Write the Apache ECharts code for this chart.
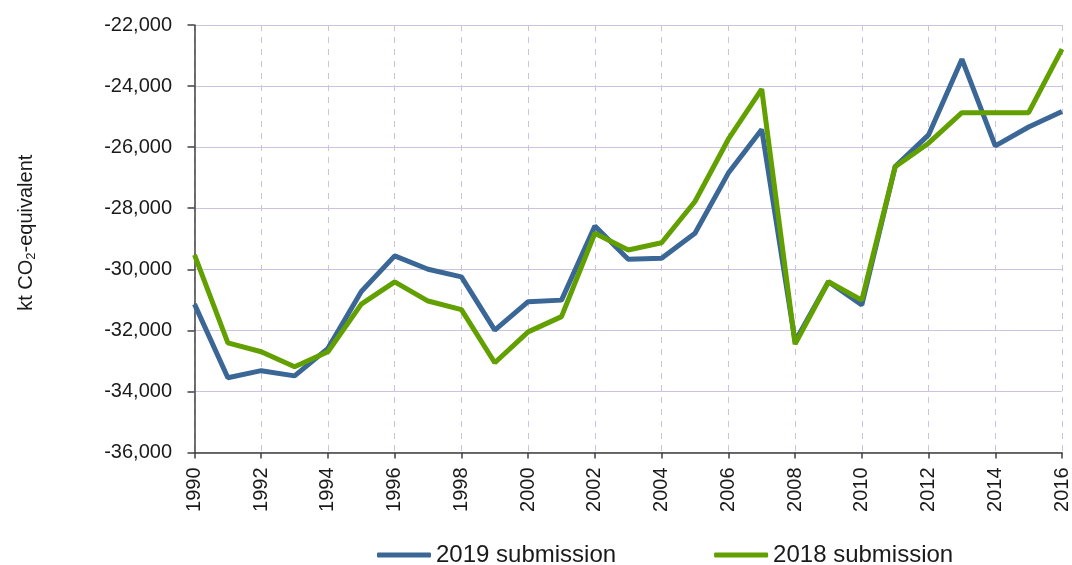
<!DOCTYPE html>
<html>
<head>
<meta charset="utf-8">
<script src="https://cdn.jsdelivr.net/npm/echarts@6/dist/echarts.min.js"></script>
<style>
  html, body { margin: 0; padding: 0; background: #ffffff; }
  #chart { width: 1072px; height: 565px; }
</style>
</head>
<body>
<div id="chart"></div>
<script>
// Net emissions/removals per inventory year, in kt CO2-equivalent
const years = [1990, 1991, 1992, 1993, 1994, 1995, 1996, 1997, 1998, 1999,
               2000, 2001, 2002, 2003, 2004, 2005, 2006, 2007, 2008, 2009,
               2010, 2011, 2012, 2013, 2014, 2015, 2016];

const submission2019 = [-31140, -33550, -33320, -33490, -32590, -30730, -29560, -30000, -30250, -31990,
                        -31060, -31010, -28580, -29670, -29640, -28820, -26850, -25420, -32360, -30410,
                        -31170, -26640, -25600, -23120, -25960, -25340, -24830];

const submission2018 = [-29530, -32410, -32700, -33190, -32700, -31140, -30410, -31040, -31320, -33060,
                        -32050, -31550, -28820, -29370, -29130, -27780, -25740, -24100, -32450, -30410,
                        -31010, -26640, -25870, -24870, -24870, -24870, -22790];

const seriesNames = ['2019 submission', '2018 submission'];
const yTicks = { min: -36000, max: -22000, step: 2000 };
const xTicks = { min: 1990, max: 2016, step: 2 };

const FONT = '"Liberation Sans", Arial, sans-serif';
const BLUE = '#3B6797';
const GREEN = '#62A000';
const GRID_COLOR = '#CBC3DF';
const AXIS_COLOR = '#404040';

const pairs = (vals) => years.map((y, i) => [y, vals[i]]);

const chart = echarts.init(document.getElementById('chart'), null, { renderer: 'canvas' });

chart.setOption({
  animation: false,
  backgroundColor: '#ffffff',
  grid: { left: 194.5, right: 10, top: 25, bottom: 112.5, containLabel: false },
  legend: {
    top: 538,
    left: 372,
    itemWidth: 54,
    itemHeight: 5,
    itemGap: 98,
    icon: 'roundRect',
    textStyle: { fontFamily: FONT, fontSize: 24, color: '#1a1a1a' },
    data: seriesNames
  },
  xAxis: {
    type: 'value',
    min: xTicks.min,
    max: xTicks.max,
    interval: xTicks.step,
    axisLine: { onZero: false, lineStyle: { color: AXIS_COLOR, width: 1.5 } },
    axisTick: { show: true, length: 6, lineStyle: { color: AXIS_COLOR, width: 1.5 } },
    axisLabel: {
      rotate: 90,
      margin: 15,
      fontFamily: FONT,
      fontSize: 20,
      color: '#1a1a1a',
      formatter: (v) => String(v)
    },
    splitLine: { show: true, lineStyle: { color: GRID_COLOR, width: 1, type: [6, 6] } }
  },
  yAxis: {
    type: 'value',
    min: yTicks.min,
    max: yTicks.max,
    interval: yTicks.step,
    name: '{a|kt CO}{b|2}{a|-equivalent}',
    nameLocation: 'middle',
    nameGap: 157,
    nameRotate: 90,
    nameTextStyle: {
      padding: [0, 0, 0, 12],
      rich: {
        a: { fontFamily: FONT, fontSize: 20, color: '#1a1a1a' },
        b: { fontFamily: FONT, fontSize: 13, color: '#1a1a1a', padding: [10, 0, 0, 0] }
      }
    },
    axisLine: { show: true, lineStyle: { color: AXIS_COLOR, width: 1.5 } },
    axisTick: { show: true, length: 7, lineStyle: { color: AXIS_COLOR, width: 1.5 } },
    axisLabel: {
      margin: 22.5,
      fontFamily: FONT,
      fontSize: 20,
      color: '#1a1a1a',
      formatter: (v) => v.toLocaleString('en-US')
    },
    splitLine: { show: true, lineStyle: { color: GRID_COLOR, width: 1.2 } }
  },
  series: [
    {
      name: seriesNames[0],
      type: 'line',
      data: pairs(submission2019),
      symbol: 'none',
      color: BLUE,
      lineStyle: { width: 5, color: BLUE },
      z: 3
    },
    {
      name: seriesNames[1],
      type: 'line',
      data: pairs(submission2018),
      symbol: 'none',
      color: GREEN,
      lineStyle: { width: 5, color: GREEN },
      z: 4
    }
  ]
});
</script>
</body>
</html>
